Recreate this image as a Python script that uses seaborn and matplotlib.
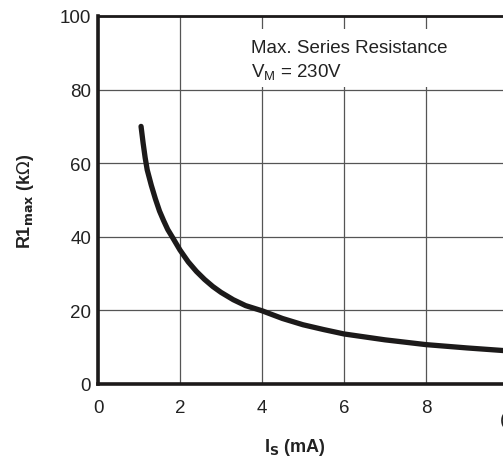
import matplotlib
matplotlib.use("Agg")
import matplotlib.pyplot as plt
import seaborn as sns
import pandas as pd
from matplotlib.patches import Rectangle

# --- datos ---
corriente_ma = [1.05, 1.1, 1.15, 1.2, 1.3, 1.4, 1.5, 1.6, 1.7, 1.83, 2.0, 2.2, 2.4, 2.6, 2.8, 3.0,
                3.3, 3.6, 4.0, 4.5, 5.0, 5.5, 6.0, 7.0, 8.0, 9.0, 10.0]
r1_max_kohm = [70, 65.5, 61.5, 58.2, 54, 50.3, 47, 44.4, 42, 39.6, 36.4, 33.2, 30.6, 28.4, 26.5, 24.9,
               22.9, 21.3, 19.9, 17.8, 16.1, 14.8, 13.6, 12.0, 10.7, 9.8, 9.0]

x_ticks = [0, 2, 4, 6, 8, 10]
x_tick_labels = ['0', '2', '4', '6', '8', '']
y_ticks = [0, 20, 40, 60, 80, 100]

df = pd.DataFrame({'Is': corriente_ma, 'R1': r1_max_kohm})

sns.set_style("white")
plt.rcParams['font.family'] = ['Liberation Sans', 'DejaVu Sans']

fig = plt.figure(figsize=(5.03, 4.64), dpi=100)
ax = fig.add_axes([98 / 503, 79 / 464, 410 / 503, 368 / 464])

sns.lineplot(data=df, x='Is', y='R1', ax=ax, color='#1c1a1a', linewidth=3.8, zorder=5)

ax.set_xlim(0, 10)
ax.set_ylim(0, 100)
ax.set_xticks(x_ticks)
ax.set_xticklabels(x_tick_labels)
ax.set_yticks(y_ticks)
ax.grid(True, color='#555555', linewidth=0.9)
ax.set_axisbelow(True)

ax.tick_params(axis='x', length=0, pad=11, labelsize=13.5, labelcolor='#222222')
ax.tick_params(axis='y', length=0, pad=5, labelsize=13.5, labelcolor='#222222')

for lado in ['left', 'bottom']:
    ax.spines[lado].set_linewidth(2.6)
    ax.spines[lado].set_color('#1c1a1a')
ax.spines['top'].set_linewidth(2.0)
ax.spines['top'].set_color('#1c1a1a')
ax.spines['right'].set_visible(False)

# caja blanca detras de la anotacion
ax.add_patch(Rectangle((3.45, 80.6), 7, 16.0, facecolor='white', edgecolor='none', zorder=2))
ax.text(3.72, 90.3, 'Max. Series Resistance', fontsize=13.5, color='#222222', zorder=6)
ax.text(3.72, 83.6, r'V$_\mathregular{M}$ = 230V', fontsize=13.5, color='#222222', zorder=6)

ax.set_xlabel(r'I$_\mathbf{S}$ (mA)', fontsize=13, fontweight='bold', color='#222222')
ax.set_ylabel(r'R1$_\mathbf{max}$ (k$\Omega$)', fontsize=13, fontweight='bold', color='#222222')
ax.xaxis.set_label_coords((295 - 98) / 410, -0.14)
ax.yaxis.set_label_coords(-0.15, 0.5)

fig.text(0.993, 0.085, '(', fontsize=13.5, color='#222222')

fig.savefig('out.png', dpi=100)
